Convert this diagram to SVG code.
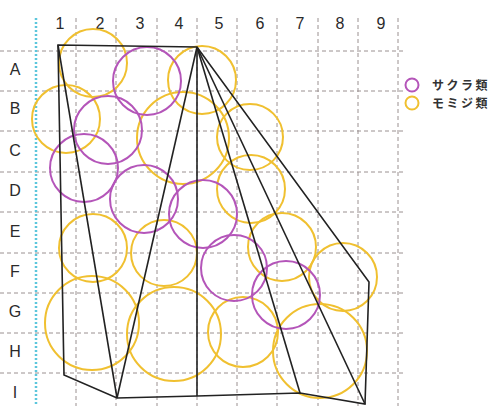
<svg xmlns="http://www.w3.org/2000/svg" width="490" height="406" viewBox="0 0 490 406">
<style>
.g{stroke:#9a9090;stroke-width:1;stroke-dasharray:4 3;fill:none}
.cy{stroke:#5cc6dc;stroke-width:2.5;stroke-dasharray:2 2;fill:none}
.lab{font-family:"Liberation Sans",Arial,sans-serif;font-size:16px;fill:#2a2a2a;text-anchor:middle}
.p{fill:none;stroke:#b455b9;stroke-width:2}
.y{fill:none;stroke:#f0c030;stroke-width:2}
.k{fill:none;stroke:#222;stroke-width:1.6;stroke-linejoin:miter}
.leg{font-family:"Noto Sans CJK JP","Noto Sans",sans-serif;font-size:12px;font-weight:bold;letter-spacing:2.5px;fill:#333}
</style>
<rect width="490" height="406" fill="#fff"/>
<g id="grid">
<line class="g" x1="76" y1="18" x2="76" y2="406"/>
<line class="g" x1="116" y1="18" x2="116" y2="406"/>
<line class="g" x1="157" y1="18" x2="157" y2="406"/>
<line class="g" x1="197" y1="18" x2="197" y2="406"/>
<line class="g" x1="237" y1="18" x2="237" y2="406"/>
<line class="g" x1="277" y1="18" x2="277" y2="406"/>
<line class="g" x1="318" y1="18" x2="318" y2="406"/>
<line class="g" x1="358" y1="18" x2="358" y2="406"/>
<line class="g" x1="398" y1="18" x2="398" y2="406"/>
<line class="g" x1="0" y1="51" x2="403" y2="51"/>
<line class="g" x1="0" y1="91" x2="403" y2="91"/>
<line class="g" x1="0" y1="131" x2="403" y2="131"/>
<line class="g" x1="0" y1="172" x2="403" y2="172"/>
<line class="g" x1="0" y1="212" x2="403" y2="212"/>
<line class="g" x1="0" y1="253" x2="403" y2="253"/>
<line class="g" x1="0" y1="293" x2="403" y2="293"/>
<line class="g" x1="0" y1="333" x2="403" y2="333"/>
<line class="g" x1="0" y1="373" x2="403" y2="373"/>
<line class="cy" x1="36" y1="18" x2="36" y2="406"/>
</g>
<g id="col-labels">
<text class="lab" x="60" y="29">1</text>
<text class="lab" x="100" y="29">2</text>
<text class="lab" x="140" y="29">3</text>
<text class="lab" x="179" y="29">4</text>
<text class="lab" x="219" y="29">5</text>
<text class="lab" x="260" y="29">6</text>
<text class="lab" x="300" y="29">7</text>
<text class="lab" x="340" y="29">8</text>
<text class="lab" x="381" y="29">9</text>
</g>
<g id="row-labels">
<text class="lab" x="15" y="75">A</text>
<text class="lab" x="15" y="114">B</text>
<text class="lab" x="15" y="156">C</text>
<text class="lab" x="15" y="196">D</text>
<text class="lab" x="15" y="237">E</text>
<text class="lab" x="15" y="277">F</text>
<text class="lab" x="15" y="317">G</text>
<text class="lab" x="15" y="357">H</text>
<text class="lab" x="15" y="398">I</text>
</g>
<g id="momiji">
<circle class="y" cx="93" cy="63" r="34"/>
<circle class="y" cx="202" cy="80" r="34"/>
<circle class="y" cx="66" cy="119" r="34"/>
<circle class="y" cx="183" cy="138" r="46"/>
<circle class="y" cx="250" cy="137" r="33"/>
<circle class="y" cx="251" cy="189" r="34"/>
<circle class="y" cx="282" cy="247" r="34"/>
<circle class="y" cx="343" cy="277" r="34"/>
<circle class="y" cx="320" cy="351" r="47"/>
<circle class="y" cx="243" cy="332" r="35"/>
<circle class="y" cx="93" cy="248" r="34"/>
<circle class="y" cx="164" cy="253" r="33"/>
<circle class="y" cx="92" cy="323" r="47"/>
<circle class="y" cx="174" cy="334" r="47"/>
</g>
<g id="sakura">
<circle class="p" cx="147" cy="81" r="34"/>
<circle class="p" cx="108" cy="130" r="34"/>
<circle class="p" cx="84" cy="168" r="34"/>
<circle class="p" cx="144" cy="199" r="34"/>
<circle class="p" cx="203" cy="214" r="34"/>
<circle class="p" cx="234" cy="268" r="33"/>
<circle class="p" cx="286" cy="295" r="34"/>
</g>
<g id="connectors">
<polygon class="k" points="58,45 197,47 369,282 365,404 300,393 197,396 117,398 64,375"/>
<line class="k" x1="58" y1="45" x2="117" y2="398"/>
<line class="k" x1="197" y1="47" x2="117" y2="398"/>
<line class="k" x1="197" y1="47" x2="197" y2="396"/>
<line class="k" x1="197" y1="47" x2="300" y2="393"/>
<line class="k" x1="197" y1="47" x2="365" y2="404"/>
</g>
<g id="legend">
<circle class="p" cx="412" cy="85" r="6.5"/>
<circle class="y" cx="412" cy="103" r="6.5"/>
<text class="leg" x="432" y="89.5">サクラ類</text>
<text class="leg" x="432" y="107.5">モミジ類</text>
</g>
</svg>
